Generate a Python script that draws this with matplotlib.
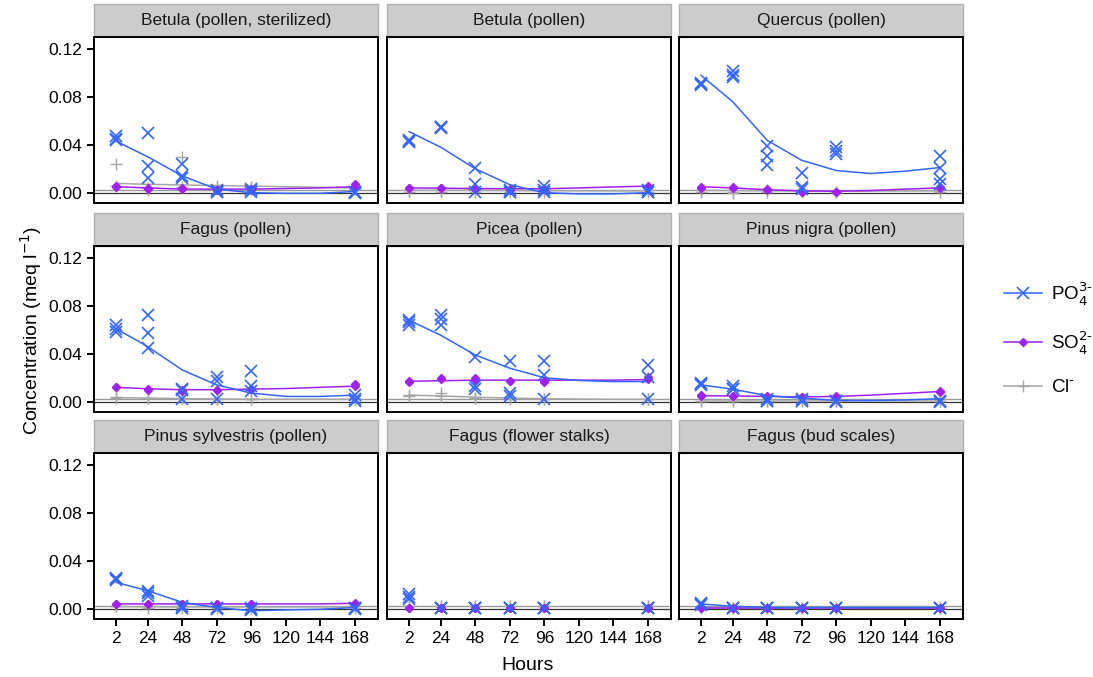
import numpy as np
import matplotlib
matplotlib.use("Agg")
import matplotlib.pyplot as plt
from matplotlib.patches import Rectangle
from matplotlib.lines import Line2D

plt.rcParams['font.family'] = ['Liberation Sans', 'DejaVu Sans']

# Paneller
PANELS = ["Betula (pollen, sterilized)", "Betula (pollen)", "Quercus (pollen)",
          "Fagus (pollen)", "Picea (pollen)", "Pinus nigra (pollen)",
          "Pinus sylvestris (pollen)", "Fagus (flower stalks)", "Fagus (bud scales)"]

HOURS = [2, 24, 48, 72, 96, 168]
FIT_HOURS = [2, 24, 48, 72, 96, 120, 144, 168]
X_TICKS = [2, 24, 48, 72, 96, 120, 144, 168]
Y_TICKS = [0.00, 0.04, 0.08, 0.12]

# PO4 ölçümleri (her saat için tekrarlar)
po4 = [
    [[0.047, 0.044, 0.045], [0.050, 0.022, 0.012], [0.024, 0.014, 0.012], [0.001, 0.002, 0.001], [0.003, 0.001, 0.002], [0.001, 0.000, 0.001]],
    [[0.044, 0.042, 0.043], [0.055, 0.055, 0.054], [0.021, 0.007, 0.001], [0.002, 0.001, 0.001], [0.006, 0.002, 0.001], [0.001, 0.002, 0.001]],
    [[0.091, 0.090, 0.092], [0.102, 0.097, 0.098], [0.039, 0.031, 0.023], [0.0165, 0.0045, 0.003], [0.038, 0.035, 0.0325], [0.031, 0.021, 0.0115, 0.007]],
    [[0.064, 0.061, 0.058], [0.072, 0.057, 0.045], [0.011, 0.010, 0.002], [0.021, 0.017, 0.002], [0.026, 0.013, 0.009], [0.006, 0.002, 0.001]],
    [[0.068, 0.0665, 0.064], [0.072, 0.069, 0.064], [0.0375, 0.0127, 0.011], [0.034, 0.007, 0.005], [0.034, 0.022, 0.002], [0.031, 0.021, 0.002]],
    [[0.0155, 0.014, 0.015], [0.0127, 0.0105, 0.011], [0.001, 0.001, 0.002], [0.001, 0.001, 0.002], [0.000, 0.001, 0.001], [0.001, 0.000, 0.001]],
    [[0.026, 0.024, 0.025], [0.015, 0.011, 0.013], [0.001, 0.002, 0.001], [0.001, 0.000, 0.001], [0.000, -0.001, 0.001], [0.001, 0.000, 0.001]],
    [[0.0125, 0.010, 0.008], [0.001, 0.001, 0.001], [0.001, 0.001, 0.001], [0.001, 0.001, 0.001], [0.001, 0.001, 0.001], [0.001, 0.001, 0.001]],
    [[0.005, 0.004, 0.003], [0.001, 0.001, 0.001], [0.001, 0.001, 0.001], [0.001, 0.001, 0.001], [0.001, 0.001, 0.001], [0.001, 0.001, 0.001]],
]

# SO4 ölçümleri
so4 = [
    [[0.005, 0.006], [0.004, 0.003], [0.003, 0.004], [0.002, 0.002], [0.002, 0.003], [0.007, 0.006]],
    [[0.004, 0.004], [0.004, 0.004], [0.003, 0.003], [0.003, 0.002], [0.003, 0.003], [0.006, 0.005]],
    [[0.005, 0.004], [0.005, 0.004], [0.003, 0.002], [0.001, 0.001], [0.001, 0.001], [0.005, 0.004]],
    [[0.0125, 0.012], [0.0105, 0.010], [0.0095, 0.009], [0.010, 0.010], [0.011, 0.0105], [0.015, 0.013]],
    [[0.017, 0.0165], [0.0195, 0.019], [0.0195, 0.018], [0.0177, 0.017], [0.017, 0.0165], [0.0205, 0.019]],
    [[0.0058, 0.005], [0.005, 0.0048], [0.0044, 0.004], [0.004, 0.004], [0.0044, 0.004], [0.009, 0.008]],
    [[0.004, 0.004], [0.004, 0.004], [0.004, 0.004], [0.004, 0.004], [0.004, 0.004], [0.005, 0.004]],
    [[0.001, 0.001], [0.001, 0.001], [0.001, 0.001], [0.001, 0.001], [0.001, 0.001], [0.001, 0.001]],
    [[0.001, 0.001], [0.001, 0.001], [0.001, 0.001], [0.001, 0.001], [0.001, 0.001], [0.001, 0.001]],
]

# Cl ölçümleri
cl = [
    [[0.024, 0.006], [0.004, 0.002], [0.030, 0.005], [0.006, 0.004], [0.005, 0.004], [0.004, 0.003]],
    [[0.002, 0.001], [0.002, 0.001], [0.002, 0.001], [0.002, 0.001], [0.002, 0.001], [0.002, 0.001]],
    [[0.002, 0.001], [0.001, 0.000], [0.002, 0.001], [0.002, 0.001], [0.001, 0.001], [0.002, 0.001]],
    [[0.004, 0.003], [0.003, 0.003], [0.003, 0.002], [0.002, 0.002], [0.002, 0.002], [0.002, 0.002]],
    [[0.006, 0.0045], [0.007, 0.005], [0.003, 0.003], [0.003, 0.002], [0.002, 0.002], [0.002, 0.002]],
    [[0.001, 0.001], [0.001, 0.001], [0.001, 0.001], [0.001, 0.001], [0.001, 0.001], [0.001, 0.001]],
    [[0.002, 0.002], [0.002, 0.001], [0.002, 0.001], [0.002, 0.001], [0.002, 0.001], [0.002, 0.001]],
    [[0.002, 0.002], [0.002, 0.002], [0.002, 0.002], [0.002, 0.002], [0.002, 0.002], [0.002, 0.002]],
    [[0.001, 0.001], [0.001, 0.001], [0.001, 0.001], [0.001, 0.001], [0.001, 0.001], [0.001, 0.001]],
]

# Yumuşatılmış eğriler (FIT_HOURS noktalarında)
po4_fit = [
    [0.043, 0.030, 0.014, 0.003, 0.000, -0.0005, -0.0005, 0.001],
    [0.051, 0.038, 0.020, 0.0067, 0.000, -0.001, -0.001, 0.000],
    [0.098, 0.076, 0.0437, 0.027, 0.0185, 0.016, 0.018, 0.021],
    [0.061, 0.046, 0.0265, 0.014, 0.0072, 0.0044, 0.0044, 0.0055],
    [0.068, 0.0555, 0.039, 0.028, 0.020, 0.0177, 0.0168, 0.0168],
    [0.014, 0.0105, 0.005, 0.003, 0.001, 0.001, 0.0015, 0.0025],
    [0.022, 0.015, 0.0053, 0.001, -0.0017, -0.001, -0.0005, 0.001],
    None,
    [0.004, 0.002, 0.001, 0.001, 0.001, 0.001, 0.001, 0.001],
]
so4_fit = [
    [0.005, 0.004, 0.003, 0.003, 0.003, 0.0035, 0.004, 0.005],
    [0.004, 0.0038, 0.0035, 0.0033, 0.0033, 0.004, 0.0048, 0.0055],
    [0.005, 0.004, 0.0025, 0.0015, 0.0012, 0.0018, 0.003, 0.004],
    [0.012, 0.0108, 0.010, 0.010, 0.0105, 0.011, 0.012, 0.013],
    [0.017, 0.0175, 0.018, 0.018, 0.018, 0.018, 0.018, 0.0185],
    [0.005, 0.0048, 0.0044, 0.004, 0.0044, 0.0055, 0.007, 0.0085],
    [0.004, 0.004, 0.004, 0.004, 0.004, 0.004, 0.004, 0.0045],
    None,
    [0.001, 0.001, 0.001, 0.001, 0.001, 0.001, 0.001, 0.001],
]
cl_fit = [
    [0.0078, 0.007, 0.0065, 0.006, 0.0055, 0.005, 0.0045, 0.004],
    [0.002, 0.002, 0.002, 0.0018, 0.0017, 0.0016, 0.0015, 0.0015],
    [0.002, 0.0018, 0.0016, 0.0015, 0.0014, 0.0014, 0.0015, 0.0015],
    [0.0035, 0.003, 0.0026, 0.0023, 0.002, 0.002, 0.002, 0.002],
    [0.0055, 0.0048, 0.0038, 0.003, 0.0025, 0.0022, 0.002, 0.002],
    [0.001, 0.001, 0.001, 0.001, 0.001, 0.001, 0.001, 0.001],
    [0.0018, 0.0016, 0.0015, 0.0015, 0.0015, 0.0015, 0.0015, 0.0015],
    None,
    [0.001, 0.001, 0.001, 0.001, 0.001, 0.001, 0.001, 0.001],
]

C_PO4 = "#3366FF"
C_SO4 = "#A020F0"
C_CL = "#A6A6A6"

W, H = 1093, 677
fig = plt.figure(figsize=(W / 100, H / 100), dpi=100)

col_left = [94, 387, 679]
row_top = [37, 246, 453]
ax_w, ax_h, strip_h = 284, 166, 33


def scatter_series(ax, data, **kw):
    xs, ys = [], []
    for h, vals in zip(HOURS, data):
        xs += [h] * len(vals)
        ys += vals
    ax.plot(xs, ys, ls="none", **kw)


for i, name in enumerate(PANELS):
    r, c = divmod(i, 3)
    ax = fig.add_axes([col_left[c] / W, 1 - (row_top[r] + ax_h) / H, ax_w / W, ax_h / H])
    ax.set_xlim(-13.3, 184)
    ax.set_ylim(-0.0086, 0.130)

    ax.axhline(0.002, color="#9A9A9A", lw=1.0, zorder=1)
    ax.axhline(0.0, color="#333333", lw=0.9, zorder=1)

    for fits, col in ((cl_fit, C_CL), (so4_fit, C_SO4), (po4_fit, C_PO4)):
        if fits[i] is not None:
            ax.plot(FIT_HOURS, fits[i], color=col, lw=1.1, zorder=3)

    scatter_series(ax, cl[i], marker="+", color=C_CL, ms=8, mew=1.0, zorder=2)
    scatter_series(ax, so4[i], marker="D", color=C_SO4, ms=4.5, zorder=4)
    scatter_series(ax, po4[i], marker="x", color=C_PO4, ms=8, mew=1.2, zorder=5)

    for s in ax.spines.values():
        s.set_linewidth(1.4)
        s.set_color("black")

    ax.set_xticks(X_TICKS)
    ax.set_yticks(Y_TICKS)
    ax.tick_params(direction="out", length=5, width=1.4, colors="black", labelsize=12.5)
    if c == 0:
        ax.set_yticklabels([f"{v:.2f}" for v in Y_TICKS])
    else:
        ax.tick_params(axis="y", left=False, labelleft=False)
    if r == 2:
        ax.set_xticklabels([str(v) for v in X_TICKS])
    else:
        ax.tick_params(axis="x", bottom=False, labelbottom=False)

    # Başlık şeridi
    sh = strip_h / ax_h
    ax.add_patch(Rectangle((0, 1.0), 1, sh, transform=ax.transAxes, clip_on=False,
                           facecolor="#CCCCCC", edgecolor="#B0B0B0", lw=1.0, zorder=0))
    ax.text(0.5, 1 + sh / 2, name, transform=ax.transAxes, ha="center", va="center",
            fontsize=12.5, color="#1A1A1A")

fig.text(31 / W, 1 - 330 / H, "Concentration (meq l$^{-1}$)", rotation=90,
         ha="center", va="center", fontsize=14)
fig.text(528 / W, 1 - 665 / H, "Hours", ha="center", va="center", fontsize=14)

handles = [
    Line2D([], [], color=C_PO4, marker="x", ms=8, mew=1.2, lw=1.1),
    Line2D([], [], color=C_SO4, marker="D", ms=4.5, lw=1.1),
    Line2D([], [], color=C_CL, marker="+", ms=8, mew=1.0, lw=1.1),
]
labels = [r"PO$_4^{3\text{-}}$", r"SO$_4^{2\text{-}}$", r"Cl$^{\text{-}}$"]
fig.legend(handles, labels, loc="center left", bbox_to_anchor=(1004 / W, 1 - 338 / H),
           frameon=False, fontsize=13.5, handlelength=2.0, labelspacing=1.2,
           handletextpad=0.5, borderaxespad=0, borderpad=0)

plt.savefig("out.png", dpi=100)
